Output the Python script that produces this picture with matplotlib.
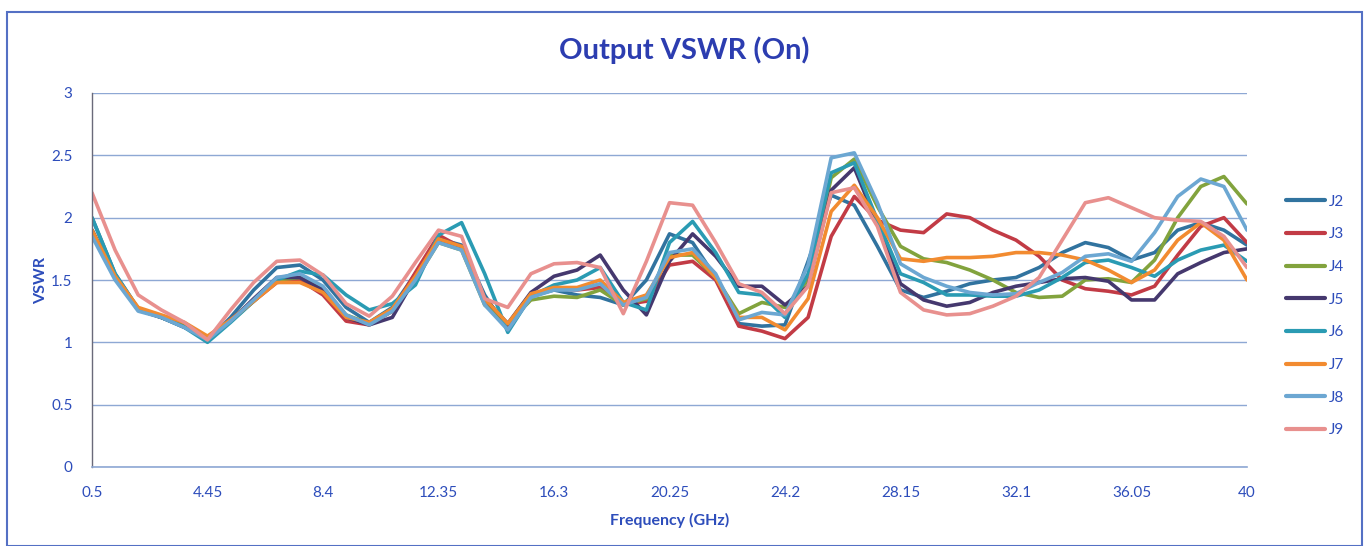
import numpy as np
import matplotlib
matplotlib.use("Agg")
import matplotlib.pyplot as plt
from matplotlib.patches import Rectangle

# ---------------- data ----------------
freq_start = 0.5
freq_step = 0.79
n_points = 51
freq = [round(freq_start + freq_step * i, 3) for i in range(n_points)]

tick_labels = ["0.5", "4.45", "8.4", "12.35", "16.3", "20.25", "24.2",
               "28.15", "32.1", "36.05", "40"]
tick_values = [0.5, 4.45, 8.4, 12.35, 16.3, 20.25, 24.2, 28.15, 32.1, 36.05, 40]

series_names = ["J2", "J3", "J4", "J5", "J6", "J7", "J8", "J9"]

J2 = [2.00, 1.55, 1.27, 1.20, 1.13, 1.01, 1.20, 1.42, 1.60, 1.62,
      1.50, 1.28, 1.16, 1.28, 1.55, 1.83, 1.78, 1.38, 1.10, 1.37,
      1.42, 1.38, 1.36, 1.30, 1.50, 1.87, 1.80, 1.52, 1.15, 1.13,
      1.14, 1.65, 2.18, 2.10, 1.77, 1.42, 1.36, 1.41, 1.47, 1.50,
      1.52, 1.60, 1.72, 1.80, 1.76, 1.66, 1.72, 1.90, 1.96, 1.90, 1.78]
J3 = [1.90, 1.52, 1.26, 1.20, 1.13, 1.03, 1.18, 1.33, 1.48, 1.50,
      1.38, 1.17, 1.14, 1.25, 1.56, 1.86, 1.76, 1.35, 1.14, 1.38,
      1.43, 1.42, 1.44, 1.30, 1.33, 1.62, 1.65, 1.50, 1.13, 1.09,
      1.03, 1.20, 1.85, 2.17, 1.98, 1.90, 1.88, 2.03, 2.00, 1.90,
      1.82, 1.69, 1.50, 1.43, 1.41, 1.38, 1.45, 1.70, 1.93, 2.00, 1.80]
J4 = [1.90, 1.52, 1.26, 1.20, 1.13, 1.02, 1.17, 1.33, 1.50, 1.52,
      1.43, 1.22, 1.15, 1.25, 1.50, 1.80, 1.74, 1.30, 1.15, 1.34,
      1.37, 1.36, 1.42, 1.30, 1.35, 1.70, 1.70, 1.52, 1.23, 1.32,
      1.28, 1.50, 2.32, 2.47, 2.09, 1.77, 1.67, 1.64, 1.58, 1.50,
      1.40, 1.36, 1.37, 1.50, 1.51, 1.48, 1.66, 2.00, 2.25, 2.33, 2.11]
J5 = [1.90, 1.52, 1.26, 1.20, 1.12, 1.03, 1.17, 1.35, 1.52, 1.52,
      1.42, 1.20, 1.14, 1.20, 1.52, 1.83, 1.77, 1.35, 1.15, 1.40,
      1.53, 1.58, 1.70, 1.42, 1.22, 1.65, 1.87, 1.69, 1.45, 1.45,
      1.30, 1.45, 2.22, 2.40, 1.95, 1.47, 1.34, 1.29, 1.32, 1.40,
      1.45, 1.48, 1.51, 1.52, 1.49, 1.34, 1.34, 1.55, 1.64, 1.72, 1.75]
J6 = [2.00, 1.55, 1.27, 1.20, 1.12, 1.00, 1.16, 1.33, 1.50, 1.57,
      1.54, 1.38, 1.26, 1.31, 1.46, 1.86, 1.96, 1.55, 1.08, 1.37,
      1.46, 1.50, 1.60, 1.32, 1.26, 1.80, 1.97, 1.72, 1.40, 1.38,
      1.20, 1.55, 2.36, 2.44, 1.98, 1.55, 1.48, 1.38, 1.38, 1.37,
      1.37, 1.42, 1.52, 1.64, 1.66, 1.60, 1.53, 1.66, 1.74, 1.78, 1.65]
J7 = [1.90, 1.53, 1.28, 1.22, 1.16, 1.05, 1.18, 1.33, 1.48, 1.48,
      1.40, 1.20, 1.16, 1.27, 1.53, 1.83, 1.77, 1.35, 1.15, 1.39,
      1.44, 1.44, 1.50, 1.32, 1.38, 1.68, 1.72, 1.52, 1.20, 1.20,
      1.10, 1.35, 2.05, 2.26, 2.00, 1.67, 1.65, 1.68, 1.68, 1.69,
      1.72, 1.72, 1.70, 1.66, 1.58, 1.48, 1.58, 1.82, 1.96, 1.82, 1.50]
J8 = [1.85, 1.50, 1.25, 1.20, 1.12, 1.02, 1.17, 1.34, 1.52, 1.55,
      1.45, 1.22, 1.14, 1.25, 1.50, 1.80, 1.74, 1.30, 1.10, 1.36,
      1.42, 1.42, 1.47, 1.30, 1.36, 1.72, 1.75, 1.55, 1.18, 1.24,
      1.22, 1.62, 2.48, 2.52, 2.12, 1.63, 1.52, 1.45, 1.40, 1.38,
      1.39, 1.48, 1.56, 1.69, 1.71, 1.65, 1.88, 2.17, 2.31, 2.25, 1.90]
J9 = [2.20, 1.74, 1.38, 1.26, 1.16, 1.02, 1.26, 1.48, 1.65, 1.66,
      1.54, 1.31, 1.21, 1.37, 1.64, 1.90, 1.85, 1.35, 1.28, 1.55,
      1.63, 1.64, 1.60, 1.23, 1.65, 2.12, 2.10, 1.80, 1.47, 1.40,
      1.23, 1.45, 2.20, 2.24, 1.93, 1.40, 1.26, 1.22, 1.23, 1.29,
      1.37, 1.52, 1.82, 2.12, 2.16, 2.08, 2.00, 1.98, 1.97, 1.85, 1.60]

series_values = [J2, J3, J4, J5, J6, J7, J8, J9]
series_colors = ["#31739F", "#C23B45", "#82A33D", "#45386E",
                 "#2A9BB3", "#F28B30", "#6CA7D2", "#E8908E"]

# ---------------- figure ----------------
text_blue = "#2D4DBB"
title_blue = "#2C3DB0"
font = ["Lato", "DejaVu Sans"]
plt.rcParams["font.family"] = font

W, H = 1369, 546
fig = plt.figure(figsize=(W / 100, H / 100), dpi=100)
fig.patch.set_facecolor("white")

# outer chart border
fig.add_artist(Rectangle((7 / W, 0.0), (1362 - 7) / W, (546 - 12) / H,
                         transform=fig.transFigure, fill=False,
                         edgecolor="#5470C4", linewidth=1.5))

ax = fig.add_axes([92 / W, (H - 467) / H, (1247 - 92) / W, (467 - 93) / H])

for name, vals, col in zip(series_names, series_values, series_colors):
    ax.plot(freq, vals, color=col, lw=2.6, label=name,
            solid_capstyle="round", solid_joinstyle="round")

ax.set_xlim(0.5, 40)
ax.set_ylim(0, 3)
ax.set_xticks(tick_values)
ax.set_xticklabels(tick_labels)
ax.set_yticks([0, 0.5, 1, 1.5, 2, 2.5, 3])
ax.set_yticklabels(["0", "0.5", "1", "1.5", "2", "2.5", "3"])
ax.tick_params(axis="both", length=0, labelsize=11, labelcolor=text_blue)
ax.tick_params(axis="x", pad=14)
ax.tick_params(axis="y", pad=14)

ax.grid(axis="y", color="#8EA8D4", lw=1.0)
ax.set_axisbelow(True)
for s in ["top", "right"]:
    ax.spines[s].set_visible(False)
ax.spines["left"].set_color("#6A6A7A")
ax.spines["left"].set_linewidth(1.0)
ax.spines["bottom"].set_color("#8EA8D4")
ax.spines["bottom"].set_linewidth(1.2)

ax.set_xlabel("Frequency (GHz)", fontsize=11.5, fontweight="bold",
              color=text_blue, labelpad=9)
ax.set_ylabel("VSWR", fontsize=11.5, fontweight="bold",
              color=text_blue, labelpad=2)

fig.text(0.5, (H - 50) / H, "Output VSWR (On)", ha="center", va="center",
         fontsize=21, fontweight="bold", color=title_blue)

leg = ax.legend(loc="upper left", bbox_to_anchor=(1272 / W, (H - 181) / H),
                bbox_transform=fig.transFigure, frameon=False,
                fontsize=11, handlelength=2.6, handletextpad=0.25,
                labelspacing=1.22)
for t in leg.get_texts():
    t.set_color(text_blue)
for l in leg.get_lines():
    l.set_linewidth(3.0)

fig.savefig("out.png", dpi=100)
